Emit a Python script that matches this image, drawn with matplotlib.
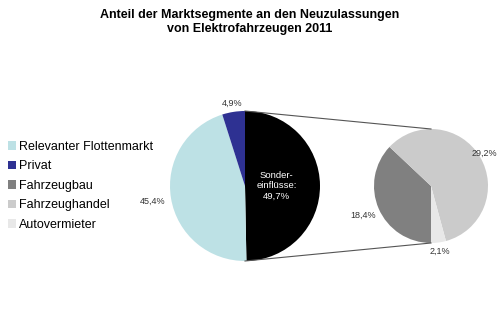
import numpy as np
import matplotlib.pyplot as plt

plt.rcParams['font.family'] = ['Liberation Sans', 'DejaVu Sans']

# Daten
haupt_namen = ['Sondereinflüsse', 'Relevanter Flottenmarkt', 'Privat']
haupt_werte = [49.7, 45.4, 4.9]
haupt_farben = ['#000000', '#bde1e5', '#2e3192']

detail_namen = ['Fahrzeugbau', 'Fahrzeughandel', 'Autovermieter']
detail_werte = [18.4, 29.2, 2.1]
detail_farben = ['#808080', '#cbcbcb', '#e8e8e8']

legende = ['Relevanter Flottenmarkt', 'Privat', 'Fahrzeugbau', 'Fahrzeughandel', 'Autovermieter']


def pct(v):
    return f'{v:.1f}%'.replace('.', ',')


fig = plt.figure(figsize=(5, 3.34), dpi=100)
ax = fig.add_axes([0, 0, 1, 1])
ax.set_xlim(0, 500)
ax.set_ylim(0, 334)
ax.set_aspect('equal')
ax.axis('off')

# Hauptkreis
c1, r1 = (245, 148), 75
w1, _ = ax.pie(haupt_werte, colors=haupt_farben, startangle=90, counterclock=False,
               center=c1, radius=r1, wedgeprops=dict(linewidth=0))
abstand1 = [0.42, 1.25, 1.12]
for w, v, d in zip(w1, haupt_werte, abstand1):
    t = np.radians((w.theta1 + w.theta2) / 2)
    x, y = c1[0] + d * r1 * np.cos(t), c1[1] + d * r1 * np.sin(t)
    if d < 1:
        ax.text(x, y, 'Sonder-\neinflüsse:\n' + pct(v), color='white', fontsize=6.8,
                ha='center', va='center', linespacing=1.2)
    else:
        ax.text(x, y, pct(v), fontsize=6.5, ha='center', va='center', color='#333333')

# Zweiter Kreis (Aufteilung Sondereinflüsse)
c2, r2 = (431, 148), 57
w2, _ = ax.pie(detail_werte, colors=detail_farben, startangle=270, counterclock=False,
               center=c2, radius=r2, wedgeprops=dict(linewidth=0))
abstand2 = [1.3, 1.1, 1.15]
for w, v, d in zip(w2, detail_werte, abstand2):
    t = np.radians((w.theta1 + w.theta2) / 2)
    x, y = c2[0] + d * r2 * np.cos(t), c2[1] + d * r2 * np.sin(t)
    ax.text(x, y, pct(v), fontsize=6.5, ha='center', va='center', color='#333333')

# Verbindungslinien
ax.plot([c1[0], c2[0]], [c1[1] + r1, c2[1] + r2], color='#555555', lw=0.8)
ax.plot([c1[0], c2[0]], [c1[1] - r1, c2[1] - r2], color='#555555', lw=0.8)

ax.set_xlim(0, 500)
ax.set_ylim(0, 334)

# Legende
alle = dict(zip(haupt_namen + detail_namen, list(w1) + list(w2)))
fig.legend([alle[n] for n in legende], legende, loc='upper left',
           bbox_to_anchor=(0.015, 1 - 141 / 334), frameon=False, fontsize=9,
           handlelength=0.65, handleheight=0.65, handletextpad=0.3, labelspacing=0.6,
           borderpad=0, borderaxespad=0)

# Titel
fig.text(0.5, 1 - 22 / 334, 'Anteil der Marktsegmente an den Neuzulassungen\nvon Elektrofahrzeugen 2011',
         ha='center', va='center', fontsize=9, fontweight='bold', linespacing=1.2)

fig.savefig('out.png', dpi=100)
